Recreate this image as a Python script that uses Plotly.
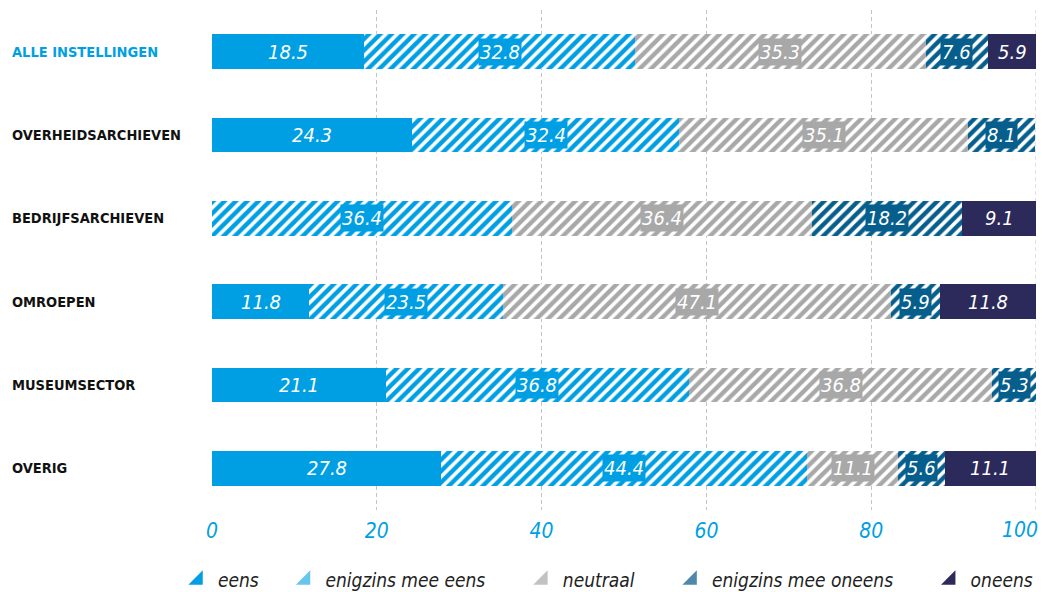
import numpy as np
import plotly.graph_objects as go

categories = ["ALLE INSTELLINGEN", "OVERHEIDSARCHIEVEN", "BEDRIJFSARCHIEVEN",
              "OMROEPEN", "MUSEUMSECTOR", "OVERIG"]
series_names = ["eens", "enigzins mee eens", "neutraal", "enigzins mee oneens", "oneens"]
eens = [18.5, 24.3, 0.0, 11.8, 21.1, 27.8]
enigzins_eens = [32.8, 32.4, 36.4, 23.5, 36.8, 44.4]
neutraal = [35.3, 35.1, 36.4, 47.1, 36.8, 11.1]
enigzins_oneens = [7.6, 8.1, 18.2, 5.9, 5.3, 5.6]
oneens = [5.9, 0.0, 9.1, 11.8, 0.0, 11.1]
x_ticks = [0, 20, 40, 60, 80, 100]
x_ticktext = ["0", "20", "40", "60", "80", ""]

series_values = [eens, enigzins_eens, neutraal, enigzins_oneens, oneens]
colors = ["#009FE3", "#009FE3", "#A8A8A8", "#065E8C", "#2C2A5A"]
hatched = [False, True, True, True, False]
legend_colors = ["#009FE3", "#66C6EE", "#C2C2C2", "#4F88AA", "#2C2A5A"]
legend_pad = [4, 6, 6, 6, 0]   # non-breaking spaces after each legend entry

FONT = "DejaVu Sans Condensed, DejaVu Sans, sans-serif"
BLUE = "#009FE3"
GRID = "#C4C4C4"

fig = go.Figure()
for name, vals, col, h in zip(series_names, series_values, colors, hatched):
    marker = dict(color=col, line=dict(width=0))
    if h:
        marker["pattern"] = dict(shape="/", size=8, solidity=0.55,
                                 fgcolor=col, bgcolor="white", fillmode="replace")
    fig.add_trace(go.Bar(y=categories, x=vals, name=name, orientation="h",
                         marker=marker, showlegend=False, hoverinfo="x+name"))

# legend-only triangle markers
for name, lc, p in zip(series_names, legend_colors, legend_pad):
    fig.add_trace(go.Scatter(x=[None], y=[None], mode="markers",
                             name=name + "\u00a0" * p,
                             marker=dict(symbol="triangle-se", size=16, color=lc),
                             showlegend=True))

# value labels
arr = np.array(series_values)
cum = np.cumsum(arr, axis=0)
annotations = []
for si in range(arr.shape[0]):
    for ci, cat in enumerate(categories):
        v = arr[si, ci]
        if v <= 0:
            continue
        center = cum[si, ci] - v / 2
        ann = dict(x=center, y=cat, xref="x", yref="y", text=f"{v:.1f}",
                   showarrow=False,
                   font=dict(family=FONT, size=20, color="white", style="italic"))
        if hatched[si]:
            ann.update(bgcolor=colors[si], borderpad=1)
        annotations.append(ann)

# category labels
for ci, cat in enumerate(categories):
    annotations.append(dict(x=-0.245, y=cat, xref="paper", yref="y", xanchor="left",
                            text=f"<b>{cat}</b>", showarrow=False,
                            font=dict(family=FONT, size=14.5,
                                      color=BLUE if ci == 0 else "#111111")))

# last x tick label, right-aligned at the axis end
annotations.append(dict(x=x_ticks[-1], y=0, xref="x", yref="paper", yanchor="top",
                        xanchor="right", xshift=4, yshift=-6, text=str(x_ticks[-1]),
                        showarrow=False,
                        font=dict(family=FONT, size=21, color=BLUE, style="italic")))

fig.update_layout(
    barmode="stack",
    bargap=0.585,
    width=1042, height=592,
    margin=dict(l=212, r=6, t=10, b=82, autoexpand=False),
    plot_bgcolor="white", paper_bgcolor="white",
    annotations=annotations,
    shapes=[dict(type="line", xref="x", yref="paper", x0=x_ticks[-1], x1=x_ticks[-1],
                 y0=0, y1=1, layer="below",
                 line=dict(color=GRID, width=1, dash="4px,3px"))],
    showlegend=True,
    legend=dict(orientation="h", traceorder="normal",
                xref="paper", x=-0.0413, xanchor="left",
                yref="paper", y=-0.14, yanchor="middle",
                font=dict(family=FONT, size=19, color="#222222", style="italic"),
                itemwidth=30, bgcolor="rgba(0,0,0,0)"),
    xaxis=dict(range=[0, 100], tickvals=x_ticks, ticktext=x_ticktext,
               showgrid=True, gridcolor=GRID, automargin=False,
               griddash="4px,3px", gridwidth=1, zeroline=False, showline=False,
               ticks="", ticklabelstandoff=6, ticklabeloverflow="allow",
               tickfont=dict(family=FONT, size=21, color=BLUE, style="italic")),
    yaxis=dict(autorange="reversed", showticklabels=False, showgrid=False,
               automargin=False, zeroline=False, showline=False, ticks=""),
)

fig.write_html("out.html", config={"displayModeBar": False},
               post_script="document.body.style.margin='0';document.body.style.padding='0';")
